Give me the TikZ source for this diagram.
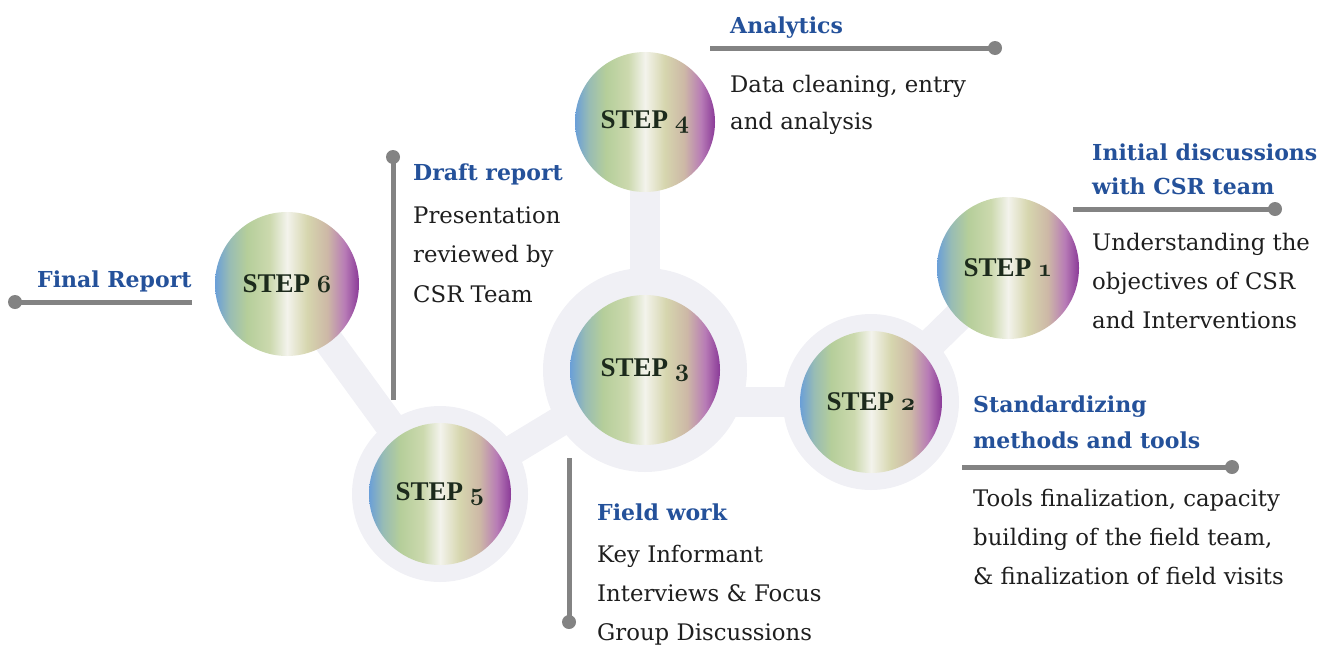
\documentclass[tikz,border=0pt]{standalone}
\usepackage{fontspec}
\setmainfont{DejaVu Serif}
\newfontfamily\stepfont{Liberation Serif}
\pgfdeclarelayer{bg}
\pgfsetlayers{bg,main}
\definecolor{sA}{HTML}{6A9FD8}
\definecolor{sB}{HTML}{98BCB4}
\definecolor{sC}{HTML}{B5CE9A}
\definecolor{sD}{HTML}{CCD9AE}
\definecolor{sE}{HTML}{F3F3EC}
\definecolor{sF}{HTML}{D6D6AE}
\definecolor{sG}{HTML}{CDB8A6}
\definecolor{sH}{HTML}{B87CB6}
\definecolor{sI}{HTML}{8A3A98}
\definecolor{halo}{HTML}{F0F0F5}
\definecolor{headblue}{HTML}{24519A}
\definecolor{bodyink}{HTML}{1E1E1E}
\definecolor{stepink}{HTML}{1C2A1C}
\definecolor{leadgray}{HTML}{838383}
\pgfdeclarehorizontalshading{stepshade}{100bp}{color(0bp)=(sA); color(25bp)=(sA); color(30bp)=(sB); color(36bp)=(sC); color(44bp)=(sD); color(50bp)=(sE); color(57bp)=(sF); color(64bp)=(sG); color(70bp)=(sH); color(75bp)=(sI); color(100bp)=(sI)}
\newcommand\osnum[1]{{\fontencoding{OML}\fontfamily{cmm}\fontseries{b}\fontshape{it}\selectfont #1}}
\tikzset{
  stepnode/.style={circle, minimum size=142pt, inner sep=0pt, shade, shading=stepshade,
    font=\stepfont\bfseries\fontsize{27}{27}\selectfont, text=stepink},
  halonode/.style={circle, fill=halo, inner sep=0pt},
  link/.style={draw=halo, line width=30pt},
  head/.style={anchor=base west, inner sep=0pt, text=headblue, font=\bfseries\fontsize{22}{22}\selectfont},
  body/.style={anchor=base west, inner sep=0pt, text=bodyink, font=\fontsize{22.8}{22.8}\selectfont},
  leader/.style={draw=leadgray, line width=5pt},
  leaddot/.style={circle, fill=leadgray, inner sep=0pt, minimum size=14pt}
}
\begin{document}
\begin{tikzpicture}[x=1pt,y=-1pt]
\useasboundingbox (0,0) rectangle (1325,646);
% halos
\node[halonode, minimum size=176pt] (h2) at (871,402) {};
\node[halonode, minimum size=204pt] (h3) at (645,370) {};
\node[halonode, minimum size=176pt] (h5) at (440,494) {};
% steps
\node[stepnode] (s1) at (1008,268) {STEP \osnum{1}};
\node[stepnode] (s2) at (871,402) {STEP \osnum{2}};
\node[stepnode, minimum size=150pt] (s3) at (645,370) {STEP \osnum{3}};
\node[stepnode, minimum size=140pt] (s4) at (645,122) {STEP \osnum{4}};
\node[stepnode] (s5) at (440,494) {STEP \osnum{5}};
\node[stepnode, minimum size=144pt] (s6) at (287,284) {STEP \osnum{6}};
\begin{pgfonlayer}{bg}
\draw[link] (s6.center) -- (s5.center);
\draw[link] (s5.center) -- (s3.center);
\draw[link] (s3.center) -- (s4.center);
\draw[link] (s3.center |- s2.center) -- (s2.center);
\draw[link] (s2.center) -- (s1.center);
\end{pgfonlayer}
% leaders
\coordinate (a1) at (710,48); \node[leaddot] (a2) at (995,48) {};
\draw[leader] (a1) -- (a2.center);
\coordinate (i1) at (1073,209); \node[leaddot] (i2) at (1275,209) {};
\draw[leader] (i1) -- (i2.center);
\coordinate (m1) at (962,467); \node[leaddot] (m2) at (1232,467) {};
\draw[leader] (m1) -- (m2.center);
\coordinate (f1) at (569,458); \node[leaddot] (f2) at (569,622) {};
\draw[leader] (f1) -- (f2.center);
\coordinate (d1) at (393,400); \node[leaddot] (d2) at (393,157) {};
\draw[leader] (d1) -- (d2.center);
\coordinate (r1) at (192,302); \node[leaddot] (r2) at (15,302) {};
\draw[leader] (r1) -- (r2.center);
% texts: Analytics
\node[head] (ah) at (730,33) {Analytics};
\node[body] (ab1) at (730,92) {Data cleaning, entry};
\node[body] (ab2) at (730,129) {and analysis};
% Initial discussions
\node[head] (ih1) at (1092,160) {Initial discussions};
\node[head] (ih2) at (1092,194) {with CSR team};
\node[body] (ib1) at (1092,250) {Understanding the};
\node[body] (ib2) at (1092,289) {objectives of CSR};
\node[body] (ib3) at (1092,328) {and Interventions};
% Standardizing
\node[head] (mh1) at (973,412) {Standardizing};
\node[head] (mh2) at (973,448) {methods and tools};
\node[body] (mb1) at (973,506) {Tools finalization, capacity};
\node[body] (mb2) at (973,545) {building of the field team,};
\node[body] (mb3) at (973,584) {\& finalization of field visits};
% Field work
\node[head] (fh) at (597,520) {Field work};
\node[body] (fb1) at (597,562) {Key Informant};
\node[body] (fb2) at (597,601) {Interviews \& Focus};
\node[body] (fb3) at (597,640) {Group Discussions};
% Draft report
\node[head] (dh) at (413,180) {Draft report};
\node[body] (db1) at (413,223) {Presentation};
\node[body] (db2) at (413,262) {reviewed by};
\node[body] (db3) at (413,302) {CSR Team};
% Final report
\node[head] (rh) at (37,287) {Final Report};
\end{tikzpicture}
\end{document}
